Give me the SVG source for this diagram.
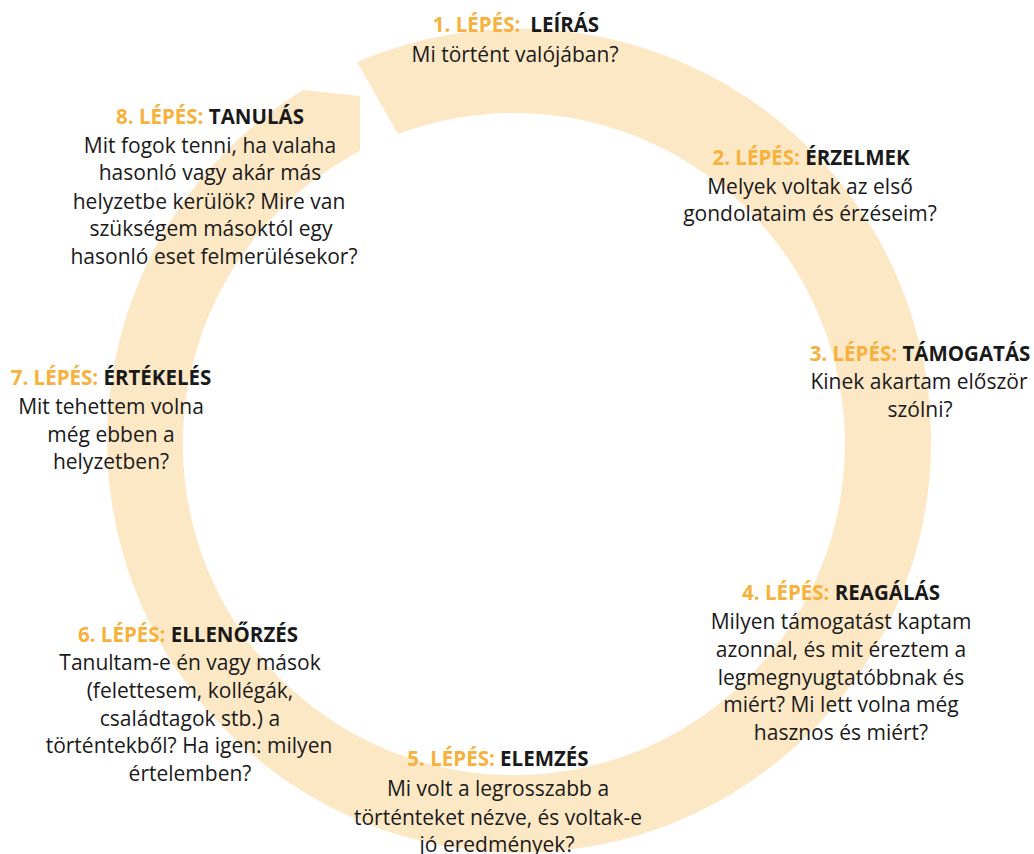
<svg xmlns="http://www.w3.org/2000/svg" width="1034" height="854" viewBox="0 0 1034 854">
<style>
  text { font-family: "Open Sans", Lato, "Liberation Sans", sans-serif; font-size: 21px; fill: #1a1a1a; text-anchor: middle; }
  .t { font-weight: 700; font-size: 20.5px; }
  .o { fill: #f7b13c; }
  .ring { fill: #fde8c6; }
</style>
<rect width="1034" height="854" fill="#ffffff"/>
<g id="connectors">
  <path class="ring" d="M 357 62 A 412 412 0 1 1 303 90 L 360 96 L 360 151 A 331 331 0 1 0 398 134 Z"/>
</g>
<g id="step1">
  <text class="t" x="516" y="32"><tspan class="o">1. LÉPÉS:</tspan><tspan dx="10">LEÍRÁS</tspan></text>
  <text x="515" y="62">Mi történt valójában?</text>
</g>
<g id="step2">
  <text class="t" x="811" y="165"><tspan class="o">2. LÉPÉS:</tspan> ÉRZELMEK</text>
  <text x="810" y="194">Melyek voltak az első</text>
  <text x="810" y="221">gondolataim és érzéseim?</text>
</g>
<g id="step3">
  <text class="t" x="920" y="361"><tspan class="o">3. LÉPÉS:</tspan> TÁMOGATÁS</text>
  <text x="919" y="389">Kinek akartam először</text>
  <text x="920" y="417">szólni?</text>
</g>
<g id="step4">
  <text class="t" x="841" y="600"><tspan class="o">4. LÉPÉS:</tspan> REAGÁLÁS</text>
  <text x="841" y="629">Milyen támogatást kaptam</text>
  <text x="841" y="657">azonnal, és mit éreztem a</text>
  <text x="841" y="685">legmegnyugtatóbbnak és</text>
  <text x="841" y="712">miért? Mi lett volna még</text>
  <text x="841" y="740">hasznos és miért?</text>
</g>
<g id="step5">
  <text class="t" x="498" y="766"><tspan class="o">5. LÉPÉS:</tspan> ELEMZÉS</text>
  <text x="498" y="796">Mi volt a legrosszabb a</text>
  <text x="498" y="825">történteket nézve, és voltak-e</text>
  <text x="497" y="852">jó eredmények?</text>
</g>
<g id="step6">
  <text class="t" x="188" y="642"><tspan class="o">6. LÉPÉS:</tspan> ELLENŐRZÉS</text>
  <text x="190" y="670">Tanultam-e én vagy mások</text>
  <text x="190" y="698">(felettesem, kollégák,</text>
  <text x="190" y="726">családtagok stb.) a</text>
  <text x="189" y="753">történtekből? Ha igen: milyen</text>
  <text x="190" y="781">értelemben?</text>
</g>
<g id="step7">
  <text class="t" x="111" y="385"><tspan class="o">7. LÉPÉS:</tspan> ÉRTÉKELÉS</text>
  <text x="111" y="414">Mit tehettem volna</text>
  <text x="111" y="442">még ebben a</text>
  <text x="111" y="469">helyzetben?</text>
</g>
<g id="step8">
  <text class="t" x="210" y="124"><tspan class="o">8. LÉPÉS:</tspan> TANULÁS</text>
  <text x="210" y="153">Mit fogok tenni, ha valaha</text>
  <text x="210" y="180">hasonló vagy akár más</text>
  <text x="209" y="209">helyzetbe kerülök? Mire van</text>
  <text x="211" y="236">szükségem másoktól egy</text>
  <text x="214" y="264">hasonló eset felmerülésekor?</text>
</g>
</svg>
